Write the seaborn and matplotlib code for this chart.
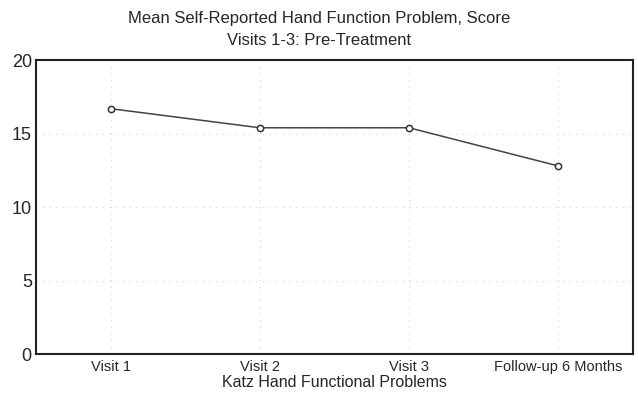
import pandas as pd
import matplotlib.pyplot as plt
import seaborn as sns

# Data
visits = ["Visit 1", "Visit 2", "Visit 3", "Follow-up 6 Months"]
mean_score = [16.7, 15.4, 15.4, 12.8]

df = pd.DataFrame({"visit": visits, "score": mean_score})

sns.set_style("white")
plt.rcParams['font.family'] = ['Liberation Sans', 'DejaVu Sans']

fig = plt.figure(figsize=(6.38, 3.96), dpi=100)
ax = fig.add_axes([0.0564, 0.106, 0.9356, 0.742])

sns.lineplot(data=df, x="visit", y="score", sort=False, ax=ax,
             color="#444444", linewidth=1.1, marker="o", markersize=4.5,
             markerfacecolor="white", markeredgecolor="#333333", markeredgewidth=1.1)

ax.set_xlim(-0.5, 3.5)
ax.set_ylim(0, 20)
ax.set_yticks([0, 5, 10, 15, 20])
ax.grid(True, linestyle=(0, (1, 5)), color="#d4d4d4", linewidth=0.8)
ax.tick_params(axis="y", labelsize=13, length=0, pad=3)
ax.tick_params(axis="x", labelsize=10.5, length=0, pad=4)
for s in ax.spines.values():
    s.set_color("#222222")
    s.set_linewidth(1.5)

ax.set_xlabel("Katz Hand Functional Problems", fontsize=11.5, labelpad=1)
ax.set_ylabel("")
fig.suptitle("Mean Self-Reported Hand Function Problem, Score\nVisits 1-3: Pre-Treatment",
             x=0.5, y=1 - 11 / 396, va="top", fontsize=12, linespacing=1.55)

plt.savefig("out.png", dpi=100)
